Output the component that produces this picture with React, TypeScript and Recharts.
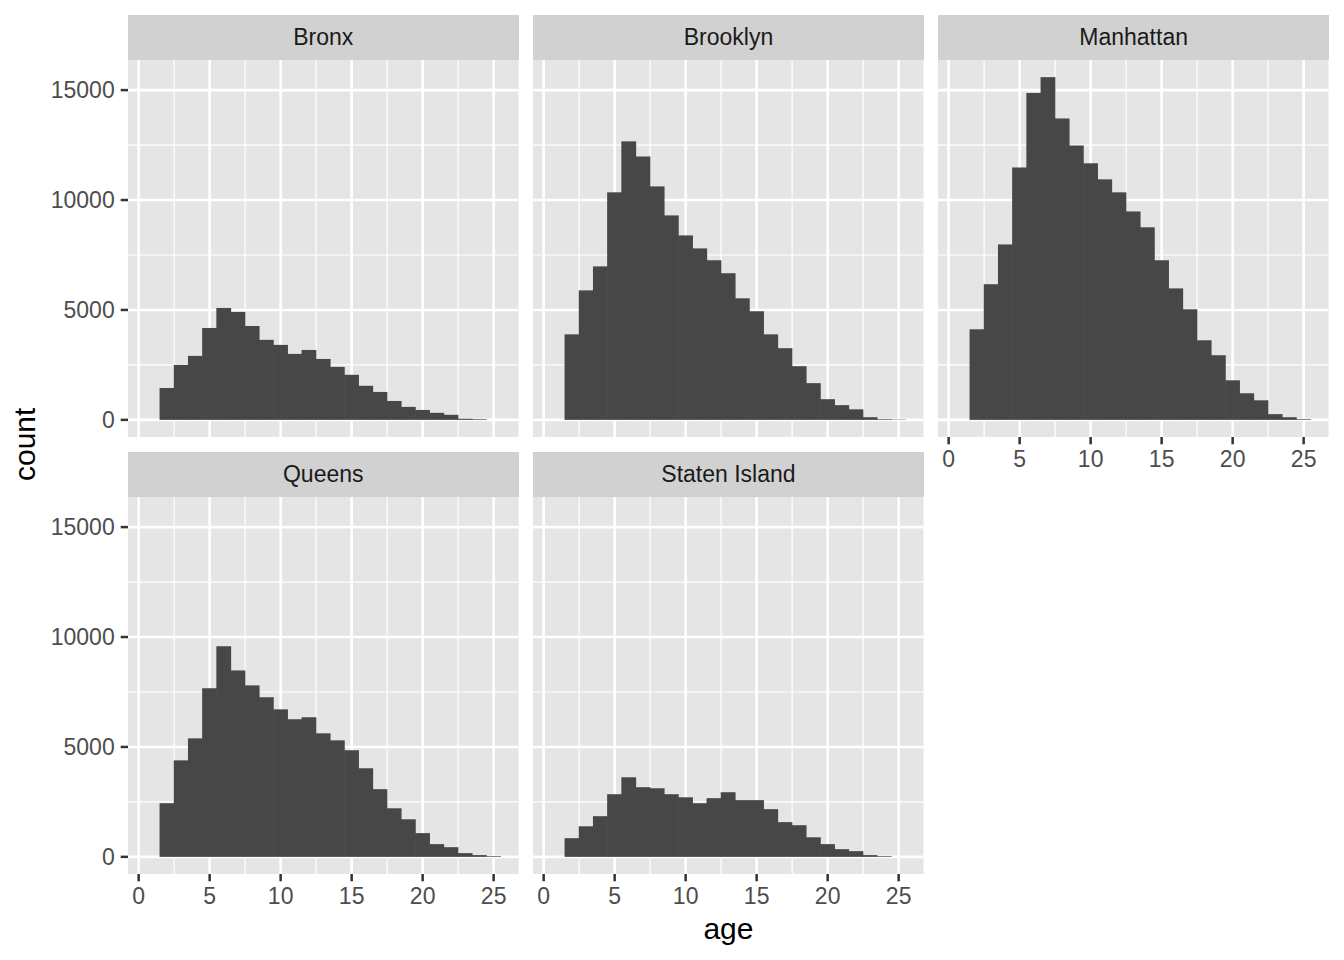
import React from "react"
import { BarChart, Bar, XAxis, YAxis, CartesianGrid } from "recharts"

// bin centres (binwidth 1)
const ages = [1, 2, 3, 4, 5, 6, 7, 8, 9, 10, 11, 12, 13, 14, 15, 16, 17, 18, 19, 20, 21, 22, 23, 24, 25]

const bronx = [0, 1450, 2500, 2910, 4180, 5090, 4910, 4270, 3640, 3410, 3000, 3180, 2770, 2410, 2050, 1550, 1270, 860, 590, 450, 320, 230, 50, 30, 0]
const brooklyn = [0, 3890, 5890, 6980, 10350, 12670, 11980, 10620, 9300, 8390, 7800, 7260, 6670, 5530, 4940, 3890, 3260, 2440, 1670, 940, 670, 480, 120, 30, 15]
const manhattan = [0, 4120, 6170, 7980, 11480, 14870, 15590, 13710, 12480, 11670, 10940, 10350, 9480, 8760, 7260, 5980, 5030, 3620, 2940, 1800, 1210, 890, 260, 120, 30]
const queens = [0, 2440, 4390, 5390, 7670, 9580, 8480, 7800, 7260, 6710, 6260, 6350, 5620, 5300, 4850, 4030, 3080, 2210, 1710, 1080, 580, 440, 170, 80, 30]
const statenIsland = [0, 850, 1390, 1850, 2850, 3620, 3170, 3120, 2850, 2710, 2440, 2670, 2940, 2580, 2580, 2170, 1580, 1440, 890, 580, 350, 260, 80, 30, 0]

const xTicks = [0, 5, 10, 15, 20, 25]
const xMinorTicks = [2.5, 7.5, 12.5, 17.5, 22.5]
const yTicks = [0, 5000, 10000, 15000]
const yMinorTicks = [2500, 7500, 12500]

const facets = [
  { name: "Bronx", counts: bronx, col: 0, row: 0, showX: false, showY: true },
  { name: "Brooklyn", counts: brooklyn, col: 1, row: 0, showX: false, showY: false },
  { name: "Manhattan", counts: manhattan, col: 2, row: 0, showX: true, showY: false },
  { name: "Queens", counts: queens, col: 0, row: 1, showX: true, showY: true },
  { name: "Staten Island", counts: statenIsland, col: 1, row: 1, showX: true, showY: false },
]

// ggplot-like expansion: 5% of range on each side
const xMin = ages[0] - 0.5
const xMax = ages[ages.length - 1] + 0.5
const xPad = (xMax - xMin) * 0.05
const X_DOMAIN: [number, number] = [xMin - xPad, xMax + xPad]

const yMaxData = Math.max(...facets.flatMap((f) => f.counts))
const Y_DOMAIN: [number, number] = [-yMaxData * 0.05, yMaxData * 1.05]

const PANEL_W = 390.5
const PANEL_H = 377
const STRIP_H = 45
const GAP = 14.7
const LEFT = 128
const TOP = 15
const Y_AXIS_W = 128
const X_AXIS_H = 46

const FONT = "'Liberation Sans', Arial, Helvetica, sans-serif"
const PANEL_BG = "#E5E5E5"
const STRIP_BG = "#D1D1D1"
const BAR_FILL = "#474747"

// histogram bins touch: widen each rect a hair so no seam shows between them
const HistBar = (props: any) => {
  const { x, y, width, height } = props
  if (!height || height <= 0) return null
  return <rect x={x - 0.4} y={y} width={width + 0.8} height={height} fill={BAR_FILL} />
}

type PanelProps = {
  name: string
  counts: number[]
  col: number
  row: number
  showX: boolean
  showY: boolean
}

function Panel({ name, counts, col, row, showX, showY }: PanelProps) {
  const data = ages.map((age, i) => ({ age, count: counts[i] }))
  const left = LEFT + col * (PANEL_W + GAP)
  const stripTop = TOP + row * (STRIP_H + PANEL_H + GAP)
  const plotTop = stripTop + STRIP_H
  const chartLeft = showY ? left - Y_AXIS_W : left
  const width = PANEL_W + (showY ? Y_AXIS_W : 0)
  const height = PANEL_H + (showX ? X_AXIS_H : 0)

  return (
    <>
      <div
        style={{
          position: "absolute",
          left,
          top: stripTop,
          width: PANEL_W,
          height: STRIP_H,
          background: STRIP_BG,
          color: "#1A1A1A",
          fontSize: 23,
          display: "flex",
          alignItems: "center",
          justifyContent: "center",
        }}
      >
        {name}
      </div>
      <div style={{ position: "absolute", left: chartLeft, top: plotTop }}>
        <BarChart
          width={width}
          height={height}
          data={data}
          margin={{ top: 0, right: 0, bottom: 0, left: 0 }}
          barCategoryGap={0}
          barGap={0}
        >
          <XAxis
            dataKey="age"
            type="number"
            domain={X_DOMAIN}
            allowDataOverflow
            ticks={xTicks}
            interval={0}
            hide={!showX}
            height={X_AXIS_H}
            tickSize={7.3}
            tickMargin={6}
            axisLine={false}
            tickLine={{ stroke: "#333333", strokeWidth: 2.5 }}
            tick={{ fill: "#4D4D4D", fontSize: 23 }}
          />
          <YAxis
            type="number"
            domain={Y_DOMAIN}
            allowDataOverflow
            ticks={yTicks}
            interval={0}
            hide={!showY}
            width={Y_AXIS_W}
            tickSize={7.3}
            tickMargin={6}
            axisLine={false}
            tickLine={{ stroke: "#333333", strokeWidth: 2.5 }}
            tick={{ fill: "#4D4D4D", fontSize: 23 }}
          />
          <CartesianGrid
            verticalValues={xMinorTicks}
            horizontalValues={yMinorTicks}
            fill={PANEL_BG}
            fillOpacity={1}
            stroke="#FFFFFF"
            strokeWidth={1.2}
          />
          <CartesianGrid verticalValues={xTicks} horizontalValues={yTicks} stroke="#FFFFFF" strokeWidth={2.6} />
          <Bar dataKey="count" fill={BAR_FILL} shape={HistBar} isAnimationActive={false} />
        </BarChart>
      </div>
    </>
  )
}

export default function App() {
  return (
    <div
      style={{
        position: "absolute",
        left: 0,
        top: 0,
        width: 1344,
        height: 960,
        background: "#FFFFFF",
        overflow: "hidden",
        fontFamily: FONT,
      }}
    >
      {facets.map((f) => (
        <Panel key={f.name} {...f} />
      ))}
      <svg width={1344} height={960} style={{ position: "absolute", left: 0, top: 0, pointerEvents: "none" }}>
        <text x={LEFT + (3 * PANEL_W + 2 * GAP) / 2} y={939} textAnchor="middle" fontSize={30} fill="#000000" fontFamily={FONT}>
          age
        </text>
        <text
          transform={`translate(35, ${TOP + (2 * (STRIP_H + PANEL_H) + GAP) / 2}) rotate(-90)`}
          textAnchor="middle"
          fontSize={30}
          fill="#000000"
          fontFamily={FONT}
        >
          count
        </text>
      </svg>
    </div>
  )
}
